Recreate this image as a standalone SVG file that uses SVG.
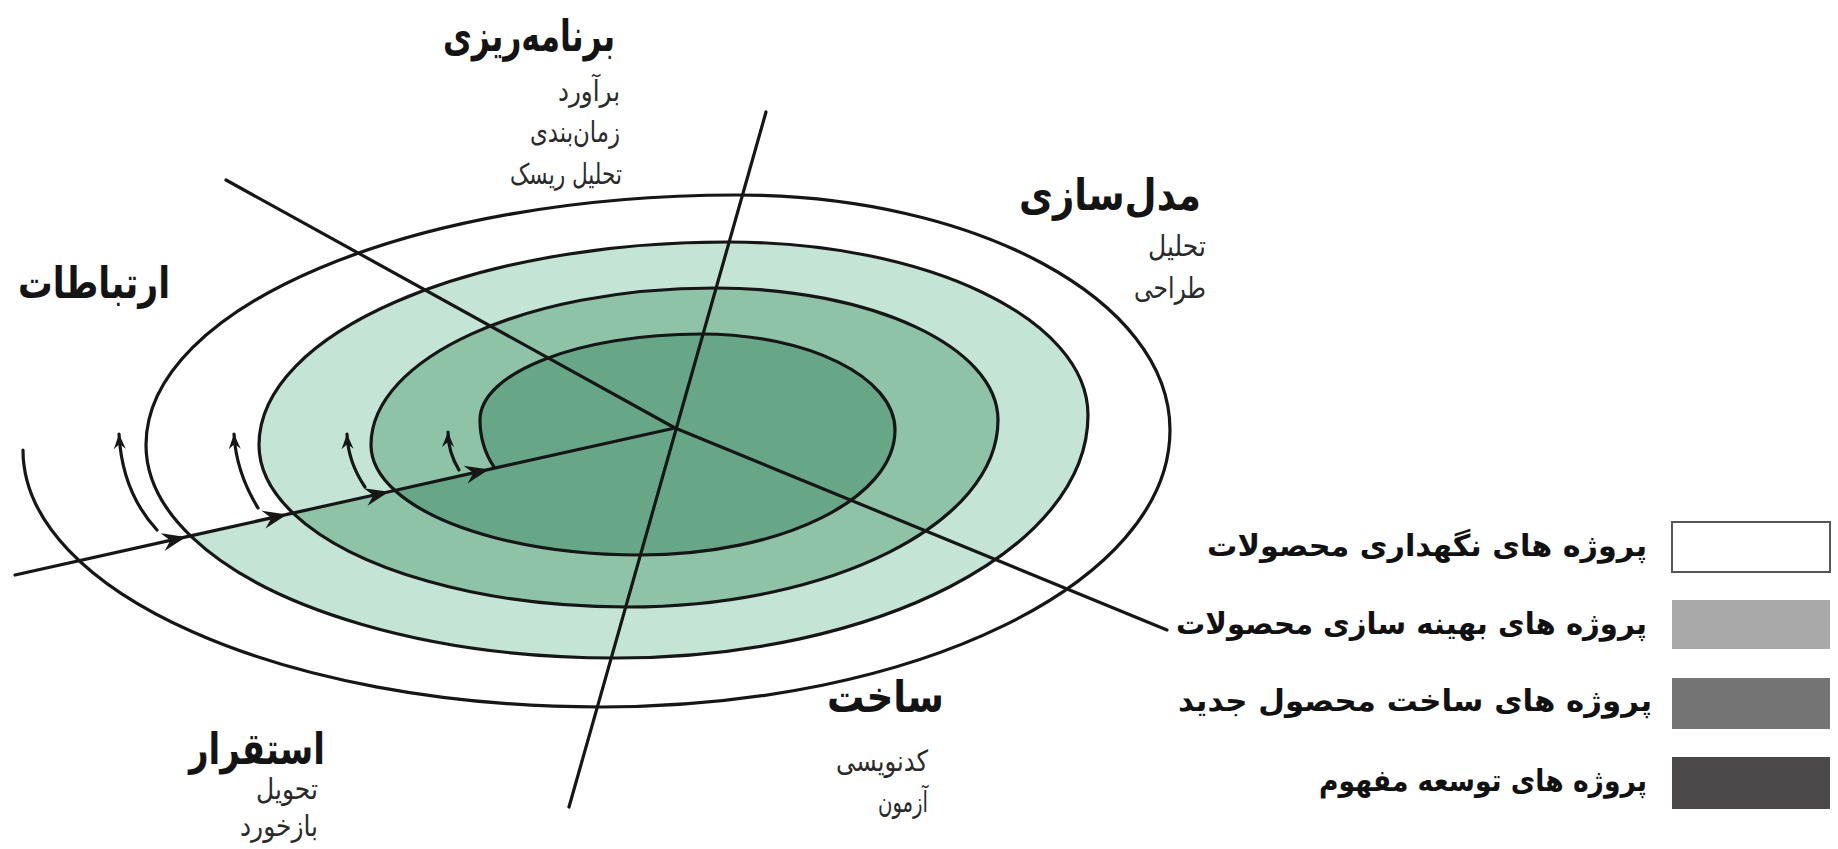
<svg xmlns="http://www.w3.org/2000/svg" width="1838" height="849" viewBox="0 0 1838 849">
  <style>
    .ln { fill: none; stroke: #161616; stroke-width: 3.2; stroke-linecap: round; stroke-linejoin: round; }
    .title { font-family: "DejaVu Sans", "Noto Sans", sans-serif; font-weight: bold; font-size: 44px; fill: #141414; text-anchor: end; }
    .sub { font-family: "DejaVu Sans", "Noto Sans", sans-serif; font-size: 29px; fill: #2a2a2a; text-anchor: end; }
    .leg { font-family: "DejaVu Sans", "Noto Sans", sans-serif; font-weight: bold; font-size: 30px; fill: #111; text-anchor: end; }
  </style>
  <defs>
    <marker id="bigHead" viewBox="-26 -10 28 20" refX="0" refY="0" markerWidth="28" markerHeight="20" markerUnits="userSpaceOnUse" orient="auto">
      <path d="M0,0 L-24,-9 L-16,0 L-24,9 Z" fill="#161616"/>
    </marker>
    <marker id="smallHead" viewBox="-16 -7 18 14" refX="0" refY="0" markerWidth="18" markerHeight="14" markerUnits="userSpaceOnUse" orient="auto">
      <path d="M0,0 L-15,-6 L-10,0 L-15,6 Z" fill="#161616"/>
    </marker>
  </defs>
  <rect width="1838" height="849" fill="#ffffff"/>

  <g id="spiral-regions">
    <path id="region-enhancement" fill="#c4e4d5" d="M191.9,537.1 C267.5,608.8 428.8,658 616,658 C877,658 1088,549 1088,415 C1088,319 927,242 728,242 C469,242 259,333 259,445 C259,469.6 271.5,492.9 293.8,513.8 Z"/>
    <path id="region-newproduct" fill="#8ec3a7" d="M293.8,513.8 C352.6,568.9 479.8,607 627,607 C832,607 998,523 998,420 C998,347 871,288 715,288 C525,288 371,358 371,445 C371,461.4 379.8,477 395.5,491 Z"/>
    <path id="region-concept" fill="#67a788" d="M395.5,491 C438.1,528.8 531.5,555 640,555 C781,555 895,499 895,430 C895,377 808,334 701,334 C579,334 480,372.5 480,420 C480,440 486,455 494,467 Z"/>
  </g>

  <g id="connectors">
    <path id="spiral" class="ln" d="M23,450 C23,592 282,707 601,707 C915,707 1170,583 1170,430 C1170,300 976,195 737,195 C411,195 146,307 146,445 C146,478 162.5,509.3 191.9,537.1 C267.5,608.8 428.8,658 616,658 C877,658 1088,549 1088,415 C1088,319 927,242 728,242 C469,242 259,333 259,445 C259,469.6 271.5,492.9 293.8,513.8 C352.6,568.9 479.8,607 627,607 C832,607 998,523 998,420 C998,347 871,288 715,288 C525,288 371,358 371,445 C371,461.4 379.8,477 395.5,491 C438.1,528.8 531.5,555 640,555 C781,555 895,499 895,430 C895,377 808,334 701,334 C579,334 480,372.5 480,420 C480,440 486,455 494,467"/>
    <line id="axis-planning" class="ln" x1="226" y1="180" x2="675" y2="428"/>
    <line id="axis-modeling" class="ln" x1="675" y1="428" x2="1167" y2="630"/>
    <line id="axis-vertical" class="ln" x1="766" y1="112" x2="569" y2="807"/>
    <path id="entry-axis" class="ln" marker-mid="url(#bigHead)" d="M15,575 L186,536.9 L287,514.4 L389,491.7 L489,469.4 L675,428"/>
    <path id="loop-arrow-1" class="ln" stroke-width="2.6" marker-end="url(#smallHead)" d="M157,530 Q122,492 119,434"/>
    <path id="loop-arrow-2" class="ln" stroke-width="2.6" marker-end="url(#smallHead)" d="M258,508 Q236,472 234,434"/>
    <path id="loop-arrow-3" class="ln" stroke-width="2.6" marker-end="url(#smallHead)" d="M365,487 Q348,462 347,434"/>
    <path id="loop-arrow-4" class="ln" stroke-width="2.6" marker-end="url(#smallHead)" d="M459,470 Q448,452 448,432"/>
  </g>

  <g id="phase-planning">
    <text class="title" x="615" y="51" textLength="172" lengthAdjust="spacingAndGlyphs">برنامه‌ریزی</text>
    <text class="sub" x="620" y="101" textLength="62" lengthAdjust="spacingAndGlyphs">برآورد</text>
    <text class="sub" x="620" y="142" textLength="90" lengthAdjust="spacingAndGlyphs">زمان‌بندی</text>
    <text class="sub" x="622" y="184" textLength="112" lengthAdjust="spacingAndGlyphs">تحلیل ریسک</text>
  </g>
  <g id="phase-modeling">
    <text class="title" x="1201" y="210" textLength="182" lengthAdjust="spacingAndGlyphs">مدل‌سازی</text>
    <text class="sub" x="1206" y="256" textLength="58" lengthAdjust="spacingAndGlyphs">تحلیل</text>
    <text class="sub" x="1206" y="298" textLength="72" lengthAdjust="spacingAndGlyphs">طراحی</text>
  </g>
  <g id="phase-communication">
    <text class="title" x="170" y="298" textLength="152" lengthAdjust="spacingAndGlyphs">ارتباطات</text>
  </g>
  <g id="phase-construction">
    <text class="title" x="944" y="712" textLength="117" lengthAdjust="spacingAndGlyphs">ساخت</text>
    <text class="sub" x="928" y="771" textLength="92" lengthAdjust="spacingAndGlyphs">کدنویسی</text>
    <text class="sub" x="928" y="812" textLength="50" lengthAdjust="spacingAndGlyphs">آزمون</text>
  </g>
  <g id="phase-deployment">
    <text class="title" x="325" y="764" textLength="136" lengthAdjust="spacingAndGlyphs">استقرار</text>
    <text class="sub" x="318" y="799" textLength="62" lengthAdjust="spacingAndGlyphs">تحویل</text>
    <text class="sub" x="318" y="836" textLength="78" lengthAdjust="spacingAndGlyphs">بازخورد</text>
  </g>

  <g id="legend-maintenance">
    <rect x="1672" y="522" width="158" height="50" fill="#ffffff" stroke="#555" stroke-width="2"/>
    <text class="leg" x="1647" y="556" textLength="440" lengthAdjust="spacingAndGlyphs">پروژه های نگهداری محصولات</text>
  </g>
  <g id="legend-enhancement">
    <rect x="1672" y="600" width="158" height="49" fill="#a9a9a9"/>
    <text class="leg" x="1647" y="634" textLength="471" lengthAdjust="spacingAndGlyphs">پروژه های بهینه سازی محصولات</text>
  </g>
  <g id="legend-newproduct">
    <rect x="1672" y="678" width="158" height="51" fill="#747474"/>
    <text class="leg" x="1652" y="711" textLength="474" lengthAdjust="spacingAndGlyphs">پروژه های ساخت محصول جدید</text>
  </g>
  <g id="legend-concept">
    <rect x="1672" y="757" width="158" height="52" fill="#4b4949"/>
    <text class="leg" x="1647" y="791" textLength="328" lengthAdjust="spacingAndGlyphs">پروژه های توسعه مفهوم</text>
  </g>
</svg>
